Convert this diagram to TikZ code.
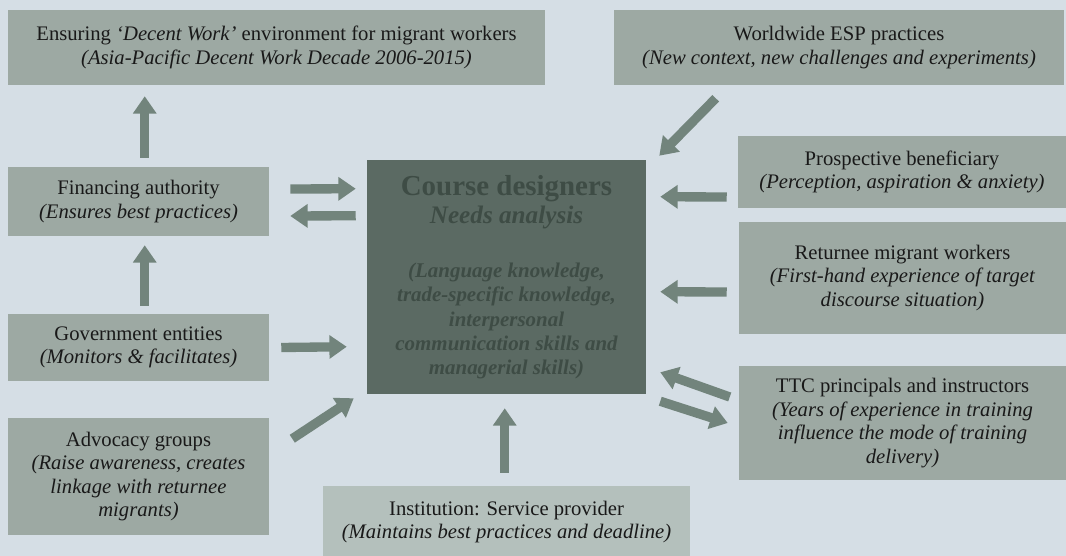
\documentclass[tikz,border=0pt]{standalone}
\usepackage{fontspec}
\setmainfont{Liberation Serif}
\usepackage{xcolor}
\usepackage{tikz}
\usetikzlibrary{arrows.meta,calc}
\definecolor{bgcol}{HTML}{D5DEE5}
\definecolor{boxcol}{HTML}{9DA9A3}
\definecolor{maincol}{HTML}{5B6A63}
\definecolor{maintext}{HTML}{3E4C45}
\definecolor{lightcol}{HTML}{B4C0BC}
\definecolor{arrowcol}{HTML}{72847C}
\tikzset{
  block/.style={rectangle, fill=boxcol, align=center, inner sep=0pt, text=black!90,
    font=\fontsize{15.5}{17.6}\selectfont},
  mainblock/.style={block, fill=maincol, text=maintext, font=\fontsize{15.7}{18.2}\selectfont},
  lightblock/.style={block, fill=lightcol},
  line/.style={-{Triangle[width=17pt,length=13pt]}, line width=7pt, draw=arrowcol}
}

\begin{document}
\begin{tikzpicture}[x=0.75pt, y=-0.75pt]
  \useasboundingbox (0,0) rectangle (1066,556);
  \fill[bgcol] (0,0) rectangle (1066,556);
  % boxes
  \node[block, minimum width=402.75pt, minimum height=56.25pt] (decent) at (276.5,47.5)
    {Ensuring \textit{`Decent Work'} environment for migrant workers\\
     \textit{(Asia-Pacific Decent Work Decade 2006-2015)}};
  \node[block, minimum width=337.5pt, minimum height=56.25pt] (esp) at (839,47.5)
    {Worldwide ESP practices\\ \textit{(New context, new challenges and experiments)}};
  \node[block, minimum width=195.75pt, minimum height=51.75pt] (finance) at (138.5,201.5)
    {Financing authority\\ \textit{(Ensures best practices)}};
  \node[block, minimum width=195.75pt, minimum height=50.25pt] (govt) at (138.5,347.5)
    {Government entities\\ \textit{(Monitors \& facilitates)}};
  \node[block, minimum width=195.75pt, minimum height=87.75pt] (advocacy) at (138.5,476.5)
    {Advocacy groups\\ \textit{(Raise awareness, creates}\\ \textit{linkage with returnee}\\ \textit{migrants)}};
  \node[mainblock, minimum width=209.25pt, minimum height=175.5pt] (designers) at (506.5,277)
    {{\fontsize{21.7}{24}\selectfont\bfseries Course designers}\\[3pt]
     {\fontsize{18.9}{20}\selectfont\bfseries\itshape Needs analysis}\\[22.5pt]
     {\bfseries\itshape (Language knowledge,}\\ {\bfseries\itshape trade-specific knowledge,}\\
     {\bfseries\itshape interpersonal}\\ {\bfseries\itshape communication skills and}\\
     {\bfseries\itshape managerial skills)}};
  \node[lightblock, minimum width=275.25pt, minimum height=54pt] (institution) at (506.5,522)
    {Institution: Service provider\\ \textit{(Maintains best practices and deadline)}};
  \node[block, minimum width=246pt, minimum height=54pt] (prospect) at (902,172)
    {Prospective beneficiary\\ \textit{(Perception, aspiration \& anxiety)}};
  \node[block, minimum width=245.25pt, minimum height=84pt] (returnee) at (902.5,278)
    {Returnee migrant workers\\ \textit{(First-hand experience of target}\\ \textit{discourse situation)}};
  \node[block, minimum width=245.25pt, minimum height=85.5pt] (ttc) at (902.5,423)
    {TTC principals and instructors\\ \textit{(Years of experience in training}\\
     \textit{influence the mode of training}\\ \textit{delivery)}};
  % arrows
  \draw[line] ($(finance.north west)+(137,-9)$) -- ($(decent.south west)+(137,11)$);
  \draw[line] ($(govt.north west)+(137,-8)$) -- ($(finance.south west)+(137,9)$);
  \draw[line] ($(finance.east)+(21,-12.5)$) -- ($(designers.north west)+(-11,29)$);
  \draw[line] ($(designers.north west)+(-11,56)$) -- ($(finance.east)+(21,14.5)$);
  \draw[line] ($(govt.east)+(12,0)$) -- ($(designers.north west)+(-20,187)$);
  \draw[line] ($(advocacy.north east)+(23,21)$) -- ($(designers.south west)+(-13,4)$);
  \draw[line] ($(institution.north west)+(182,-13)$) -- ($(designers.south west)+(138,14)$);
  \draw[line] ($(esp.south west)+(102,13)$) -- ($(designers.north east)+(13,-4)$);
  \draw[line] ($(prospect.west)+(-11,25)$) -- ($(designers.north east)+(14,37)$);
  \draw[line] ($(returnee.west)+(-12,14)$) -- ($(designers.north east)+(14,132)$);
  \draw[line] ($(ttc.west)+(-9,-26)$) -- ($(designers.south east)+(14,-22)$);
  \draw[line] ($(designers.south east)+(14,7)$) -- ($(ttc.west)+(-11,0)$);
\end{tikzpicture}
\end{document}
